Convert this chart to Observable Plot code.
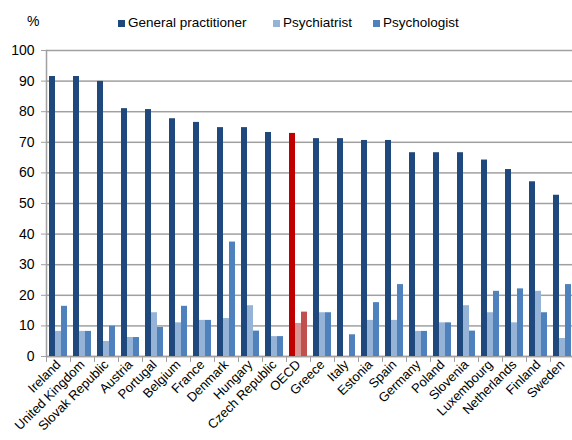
<!DOCTYPE html>
<html>
<head>
<meta charset="utf-8">
<script src="https://cdn.jsdelivr.net/npm/d3@7"></script>
<script src="https://cdn.jsdelivr.net/npm/@observablehq/plot@0.6"></script>
<style>
  html, body { margin: 0; padding: 0; background: #fff; overflow: hidden; }
  #wrap { position: relative; width: 572px; height: 440px; font-family: "Liberation Sans", Arial, sans-serif; }
  #legend { position: absolute; top: 15px; left: 0; width: 572px; height: 20px; font-size: 13.5px; color: #000; }
  #legend .item { position: absolute; top: 0; display: flex; align-items: center; white-space: nowrap; line-height: 16px; }
  #legend .sw { width: 7px; height: 7px; margin-right: 3px; }
  #unit { position: absolute; top: 13px; left: 27px; font-size: 14px; }
</style>
</head>
<body>
<div id="wrap">
  <div id="chart"></div>
  <div id="unit">%</div>
  <div id="legend"></div>
</div>
<script>
const countries = ["Ireland","United Kingdom","Slovak Republic","Austria","Portugal","Belgium","France","Denmark","Hungary","Czech Republic","OECD","Greece","Italy","Estonia","Spain","Germany","Poland","Slovenia","Luxembourg","Netherlands","Finland","Sweden"];
const series = ["General practitioner","Psychiatrist","Psychologist"];
const generalPractitioner = [91.5,91.5,89.9,81.0,80.7,77.7,76.5,74.8,74.8,73.2,72.9,71.2,71.2,70.6,70.6,66.6,66.6,66.6,64.2,61.1,57.1,52.7];
const psychiatrist = [8.2,8.2,4.9,6.2,14.3,11.0,11.8,12.4,16.6,6.5,10.8,14.3,null,11.8,11.8,8.2,11.0,16.6,14.3,11.0,21.3,5.9];
const psychologist = [16.4,8.2,9.9,6.2,9.5,16.4,11.8,37.4,8.3,6.5,14.5,14.3,7.1,17.6,23.5,8.2,11.0,8.3,21.3,22.1,14.3,23.5];
const yTicks = [0,10,20,30,40,50,60,70,80,90,100];
const seriesColors = ["#1F497D","#95B3D7","#4F81BD"];
const oecdColors = ["#C00000","#D99694","#C0504D"];
const legendLeft = [118, 273, 373];

const values = [generalPractitioner, psychiatrist, psychologist];
const data = [];
countries.forEach((c, i) => series.forEach((s, j) => {
  data.push({country: c, series: s, value: values[j][i], key: (c === "OECD" ? "OECD " : "") + s});
}));

const grid = "#a0a0a0";
const chart = Plot.plot({
  width: 572,
  height: 440,
  marginLeft: 45,
  marginRight: -2,
  marginTop: 50,
  marginBottom: 84,
  style: {fontFamily: "'Liberation Sans', Arial, sans-serif", fontSize: "13px", color: "#000", background: "#fff"},
  fx: {domain: countries, padding: 0, label: null},
  x: {domain: series, paddingInner: 0, paddingOuter: 0.3, axis: null},
  y: {domain: [0, 100], label: null},
  color: {domain: [...series, ...series.map(s => "OECD " + s)], range: [...seriesColors, ...oecdColors]},
  marks: [
    Plot.gridY(yTicks, {stroke: grid, strokeOpacity: 1, strokeWidth: 1.5}),
    Plot.ruleY([0], {stroke: grid, strokeWidth: 1.5}),
    Plot.frame({anchor: "left", facetAnchor: "left", stroke: grid, strokeWidth: 1.5}),
    Plot.frame({anchor: "left", insetTop: 306, insetBottom: -5, stroke: grid, strokeWidth: 1}),
    Plot.barY(data, {fx: "country", x: "series", y: "value", fill: "key"}),
    Plot.axisY(yTicks, {tickSize: 5, tickPadding: 7, stroke: grid, fill: "#000", fontSize: 14, label: null}),
    Plot.axisFx({anchor: "bottom", tickRotate: -45, tickSize: 0, tickPadding: 6, fontSize: 13, label: null})
  ]
});
document.getElementById("chart").appendChild(chart);

const legend = document.getElementById("legend");
series.forEach((s, j) => {
  const item = document.createElement("div");
  item.className = "item";
  item.style.left = legendLeft[j] + "px";
  const sw = document.createElement("span");
  sw.className = "sw";
  sw.style.background = seriesColors[j];
  const t = document.createElement("span");
  t.textContent = s;
  item.appendChild(sw);
  item.appendChild(t);
  legend.appendChild(item);
});
</script>
</body>
</html>
